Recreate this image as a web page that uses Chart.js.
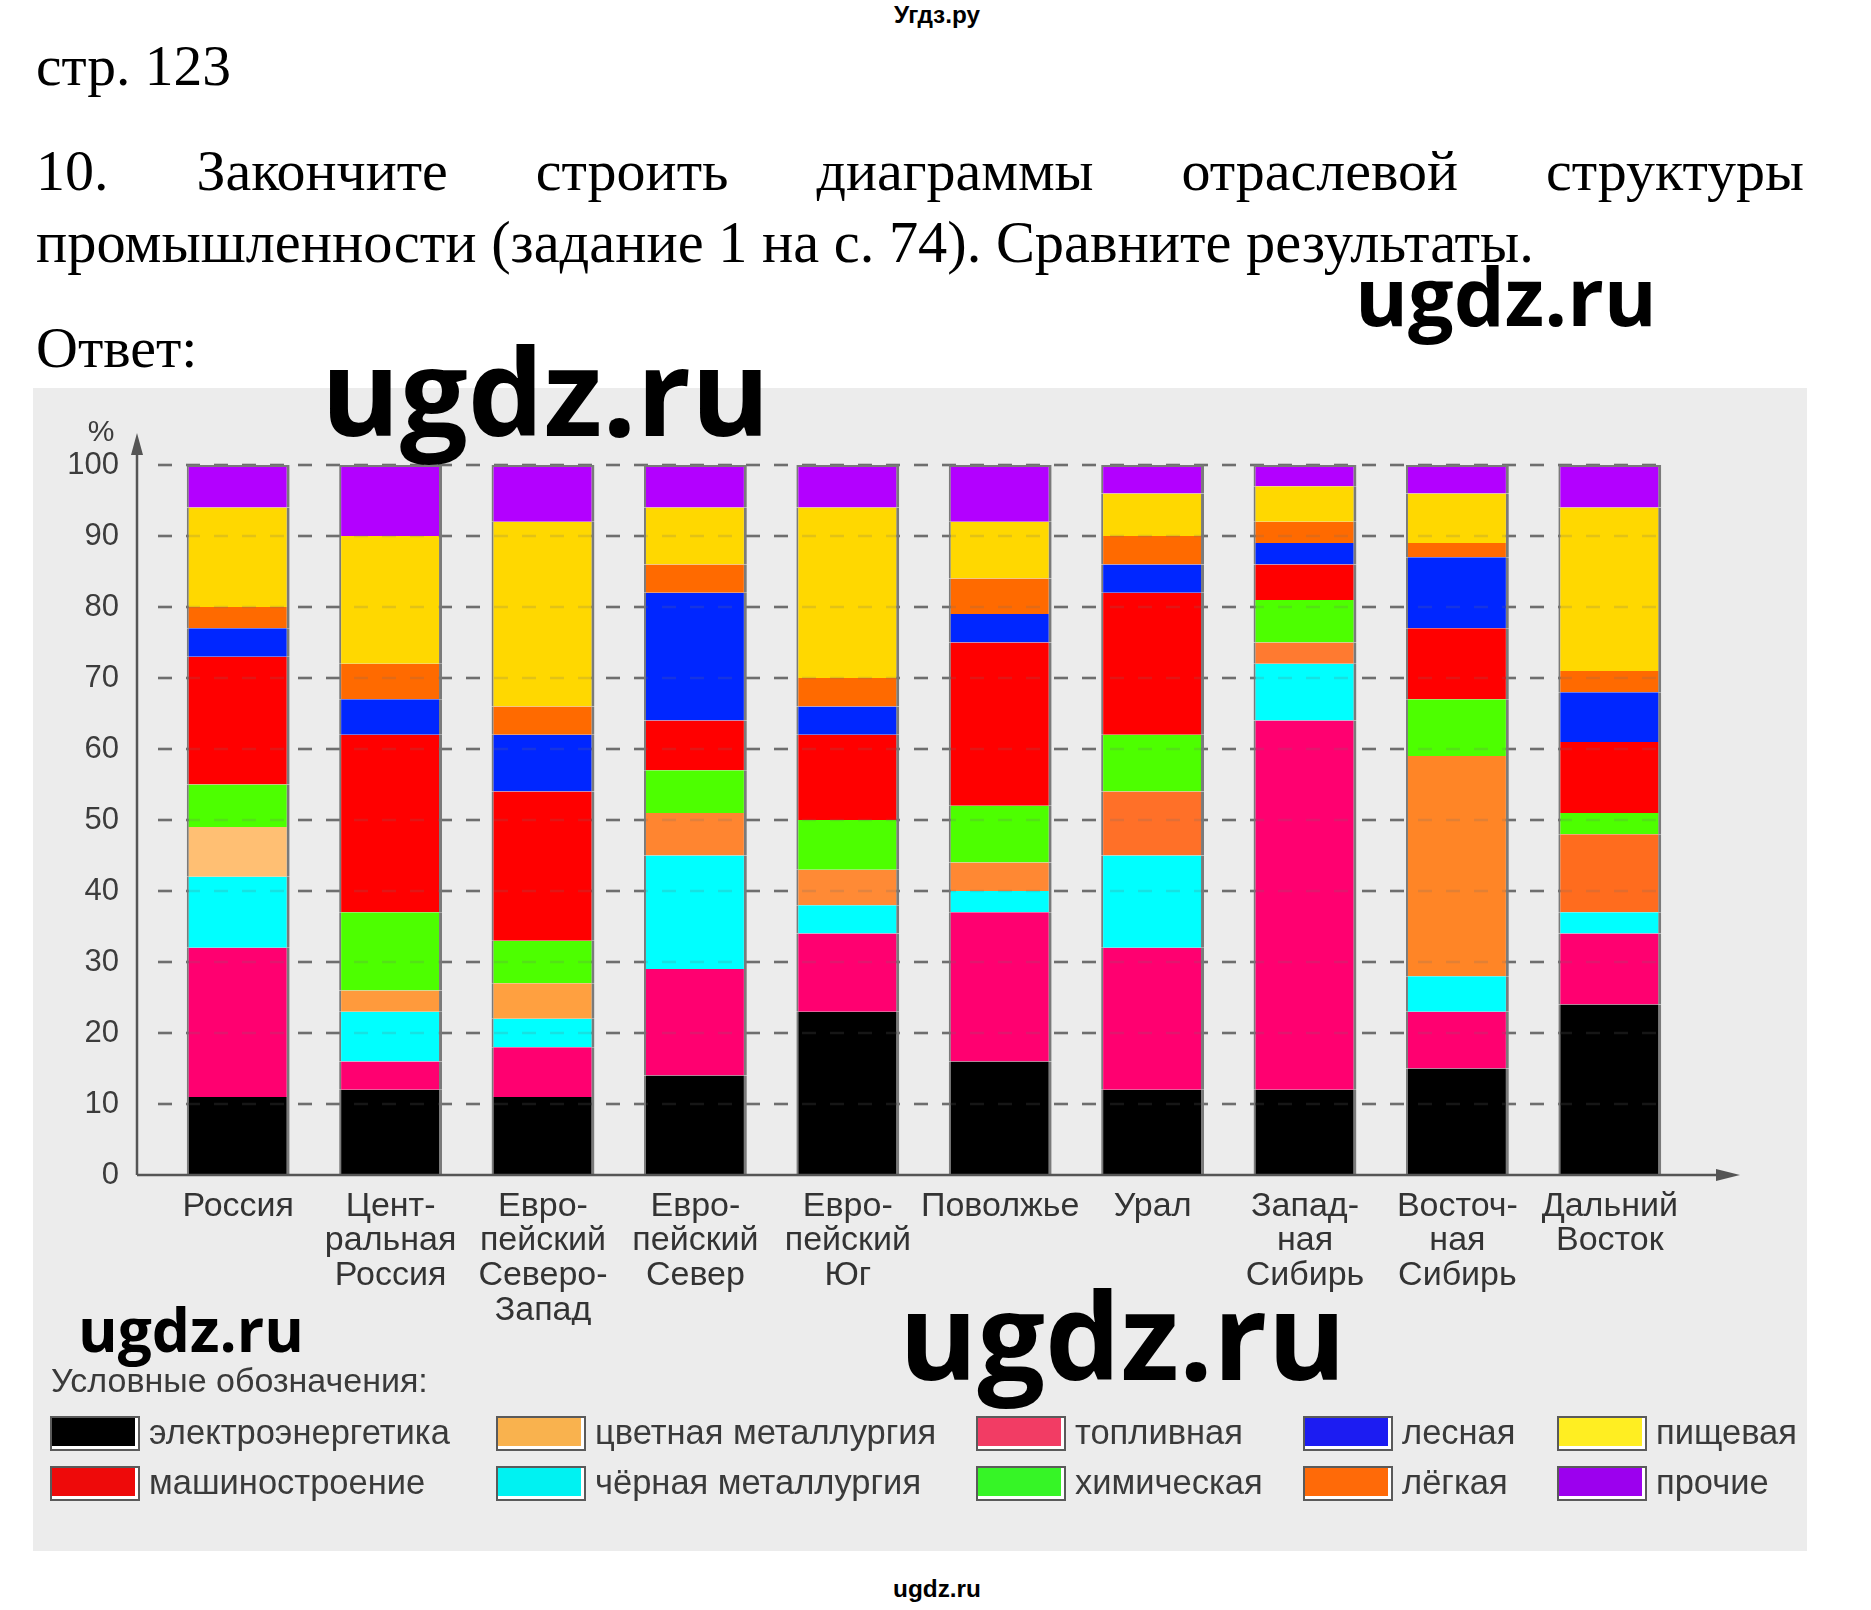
<!DOCTYPE html>
<html lang="ru">
<head>
<meta charset="utf-8">
<title>Отраслевая структура промышленности</title>
<script src="https://cdn.jsdelivr.net/npm/chart.js@4.4.1/dist/chart.umd.min.js"></script>
<style>
  html, body { margin: 0; padding: 0; background: #fff; }
  body { width: 1871px; height: 1610px; position: relative; overflow: hidden; }
  .txt { position: absolute; white-space: nowrap; }
  #panel { position: absolute; left: 33px; top: 388px; width: 1774px; height: 1163px; background: #ececec; }
  #chart { position: absolute; left: 0; top: 0; }
  .swatch { position: absolute; width: 86px; height: 31px; border: 2px solid #5a5a5a; box-shadow: inset -3px -3px 0 #fff; }
  .wm { z-index: 5; color: #000; }
</style>
</head>
<body>
<div id="panel"><canvas id="chart" width="1774" height="1163"></canvas></div>

<script>
// регионы (подписи оси X)
const regions = [
  'Россия',
  ['Цент-', 'ральная', 'Россия'],
  ['Евро-', 'пейский', 'Северо-', 'Запад'],
  ['Евро-', 'пейский', 'Север'],
  ['Евро-', 'пейский', 'Юг'],
  'Поволжье',
  'Урал',
  ['Запад-', 'ная', 'Сибирь'],
  ['Восточ-', 'ная', 'Сибирь'],
  ['Дальний', 'Восток']
];
const yTicks = [0, 10, 20, 30, 40, 50, 60, 70, 80, 90, 100];

// доли отраслей, % (снизу вверх)
const power      = [11, 12, 11, 14, 23, 16, 12, 12, 15, 24]; // электроэнергетика
const fuel       = [21,  4,  7, 15, 11, 21, 20, 52,  8, 10]; // топливная
const ferrous    = [10,  7,  4, 16,  4,  3, 13,  8,  5,  3]; // чёрная металлургия
const nonferrous = [ 7,  3,  5,  6,  5,  4,  9,  3, 31, 11]; // цветная металлургия
const chemical   = [ 6, 11,  6,  6,  7,  8,  8,  6,  8,  3]; // химическая
const machinery  = [18, 25, 21,  7, 12, 23, 20,  5, 10, 10]; // машиностроение
const forestry   = [ 4,  5,  8, 18,  4,  4,  4,  3, 10,  7]; // лесная
const light      = [ 3,  5,  4,  4,  4,  5,  4,  3,  2,  3]; // лёгкая
const food       = [14, 18, 26,  8, 24,  8,  6,  5,  7, 23]; // пищевая
const other      = [ 6, 10,  8,  6,  6,  8,  4,  3,  4,  6]; // прочие

const industries = ['электроэнергетика', 'топливная', 'чёрная металлургия', 'цветная металлургия',
  'химическая', 'машиностроение', 'лесная', 'лёгкая', 'пищевая', 'прочие'];
const values = [power, fuel, ferrous, nonferrous, chemical, machinery, forestry, light, food, other];

// цвета
const nonferrousShades = ['#FFBF73', '#FF9A3C', '#FFA040', '#FF8530', '#FF8A35',
  '#FF8833', '#FF7028', '#FF7A30', '#FF8526', '#FF6C1E'];
const barColors = ['#000000', '#FF0070', '#00FFFF', nonferrousShades, '#4DFF00',
  '#FF0000', '#0026FF', '#FF6A00', '#FFD800', '#B300FF'];
const legendColors = {
  'электроэнергетика': '#000000', 'машиностроение': '#EE0A0A',
  'цветная металлургия': '#F9B24E', 'чёрная металлургия': '#00F2F2',
  'топливная': '#F23C64', 'химическая': '#36F526',
  'лесная': '#1C1CF2', 'лёгкая': '#FF6A08',
  'пищевая': '#FFEE22', 'прочие': '#9C00EE'
};
const legendGrid = [
  ['электроэнергетика', 'машиностроение'],
  ['цветная металлургия', 'чёрная металлургия'],
  ['топливная', 'химическая'],
  ['лесная', 'лёгкая'],
  ['пищевая', 'прочие']
];

const SERIF = '"Liberation Serif", "Times New Roman", serif';
const SANS = '"Liberation Sans", Arial, sans-serif';
const WM = '"Open Sans", "Liberation Sans", sans-serif';
const baseK = { [SERIF]: 0.838, [SANS]: 0.8465, [WM]: 0.888 };

const measureCtx = document.createElement('canvas').getContext('2d');
function fitSize(text, family, weight, width) {
  measureCtx.font = `${weight} 100px ${family}`;
  return 100 * width / measureCtx.measureText(text).width;
}

function addText(text, o) {
  const el = document.createElement('div');
  el.className = 'txt' + (o.cls ? ' ' + o.cls : '');
  el.textContent = text;
  const weight = o.weight || 400;
  const size = o.fit ? fitSize(text, o.family, weight, o.fit) : o.size;
  el.style.font = `${weight} ${size}px ${o.family}`;
  el.style.lineHeight = size + 'px';
  el.style.color = o.color || '#000';
  el.style.top = (o.base - baseK[o.family] * size) + 'px';
  if (o.center) {
    el.style.left = o.center + 'px';
    el.style.transform = 'translateX(-50%)';
  } else {
    el.style.left = o.x + 'px';
  }
  if (o.width) {
    el.style.width = o.width + 'px';
    el.style.textAlign = 'justify';
    el.style.textAlignLast = 'justify';
    el.style.whiteSpace = 'normal';
  }
  document.body.appendChild(el);
  return el;
}

// текст страницы
addText('Угдз.ру', { family: SANS, weight: 700, fit: 86, center: 937, base: 24 });
addText('стр. 123', { family: SERIF, size: 57.5, x: 36, base: 85 });
addText('10. Закончите строить диаграммы отраслевой структуры', { family: SERIF, size: 58, x: 36, base: 191, width: 1768 });
addText('промышленности (задание 1 на с. 74). Сравните результаты.', { family: SERIF, size: 58.4, x: 36, base: 263 });
addText('Ответ:', { family: SERIF, size: 58, x: 36, base: 368 });

// легенда
addText('Условные обозначения:', { family: SANS, size: 34, x: 51, base: 1392, color: '#3a3a3a' });
const legendCols = [50, 496, 976, 1303, 1557];
const legendRows = [1416, 1466];
legendGrid.forEach((col, i) => {
  col.forEach((name, j) => {
    const sw = document.createElement('div');
    sw.className = 'swatch';
    sw.style.left = legendCols[i] + 'px';
    sw.style.top = legendRows[j] + 'px';
    sw.style.background = legendColors[name];
    document.body.appendChild(sw);
    addText(name, { family: SANS, size: 34.5, x: legendCols[i] + 99, base: legendRows[j] + 28, color: '#3a3a3a' });
  });
});

// водяные знаки
addText('ugdz.ru', { family: WM, weight: 700, fit: 302, x: 1355, base: 327, cls: 'wm' });
addText('ugdz.ru', { family: WM, weight: 700, fit: 449, x: 321, base: 437, cls: 'wm' });
addText('ugdz.ru', { family: WM, weight: 700, fit: 226, x: 78, base: 1353, cls: 'wm' });
addText('ugdz.ru', { family: WM, weight: 700, fit: 447, x: 899, base: 1380, cls: 'wm' });
addText('ugdz.ru', { family: SANS, weight: 700, fit: 88, center: 937, base: 1598 });

function drawGrid(chart, color) {
  const { ctx, chartArea, scales: { y } } = chart;
  const meta = chart.getDatasetMeta(chart.data.datasets.length - 1);
  const last = meta.data[meta.data.length - 1];
  const x0 = chartArea.left - 4;
  const x1 = last.x + last.width / 2;
  ctx.save();
  ctx.setLineDash([14, 14]);
  ctx.lineWidth = 2.5;
  ctx.strokeStyle = color;
  y.ticks.forEach(t => {
    if (t.value === 0) return;
    const py = Math.round(y.getPixelForValue(t.value));
    ctx.beginPath();
    ctx.moveTo(x0, py);
    ctx.lineTo(x1, py);
    ctx.stroke();
  });
  ctx.restore();
}

const axesPlugin = {
  id: 'arrowAxes',
  beforeDatasetsDraw(chart) {
    drawGrid(chart, '#6e6e6e');
  },
  afterDatasetsDraw(chart) {
    drawGrid(chart, 'rgba(110,110,110,0.2)');
    const { ctx, chartArea, scales: { y } } = chart;
    const ax = chartArea.left - 25;
    const y0 = y.getPixelForValue(0);
    const topTip = chartArea.top - 32;
    const rightTip = chartArea.right + 54;
    ctx.save();
    ctx.strokeStyle = '#555';
    ctx.fillStyle = '#555';
    ctx.lineWidth = 2.5;
    ctx.beginPath();
    ctx.moveTo(ax, y0);
    ctx.lineTo(ax, topTip + 10);
    ctx.moveTo(ax, y0);
    ctx.lineTo(rightTip - 10, y0);
    ctx.stroke();
    ctx.beginPath();
    ctx.moveTo(ax, topTip);
    ctx.lineTo(ax - 6, topTip + 22);
    ctx.lineTo(ax + 6, topTip + 22);
    ctx.closePath();
    ctx.fill();
    ctx.beginPath();
    ctx.moveTo(rightTip, y0);
    ctx.lineTo(rightTip - 24, y0 - 6);
    ctx.lineTo(rightTip - 24, y0 + 6);
    ctx.closePath();
    ctx.fill();
    ctx.font = `30px ${SANS}`;
    ctx.textAlign = 'center';
    ctx.textBaseline = 'alphabetic';
    ctx.fillStyle = '#3c3c3c';
    ctx.fillText('%', ax - 36, chartArea.top - 24);
    ctx.restore();
  }
};

const datasets = values.map((data, i) => ({
  label: industries[i],
  data,
  backgroundColor: barColors[i],
  borderColor: '#7a7a7a',
  borderWidth: { left: 2, right: 3, top: i === values.length - 1 ? 2 : 0, bottom: 0 },
  borderSkipped: false,
  categoryPercentage: 1,
  barPercentage: 0.675
}));

new Chart(document.getElementById('chart'), {
  type: 'bar',
  data: { labels: regions, datasets },
  plugins: [axesPlugin],
  options: {
    responsive: false,
    animation: false,
    events: [],
    layout: { padding: { left: 0, top: 77, right: 121, bottom: 226 } },
    plugins: { legend: { display: false }, tooltip: { enabled: false } },
    scales: {
      x: {
        stacked: true,
        grid: { display: false, drawTicks: false },
        border: { display: false },
        ticks: {
          autoSkip: false, maxRotation: 0, minRotation: 0, padding: 14,
          color: '#333',
          font: { family: SANS, size: 34, lineHeight: 1.02 }
        },
        afterFit: s => { s.height = 150; }
      },
      y: {
        stacked: true,
        min: 0,
        max: 100,
        grid: { display: false, drawTicks: false },
        border: { display: false },
        afterBuildTicks: s => { s.ticks = yTicks.map(v => ({ value: v })); },
        ticks: { padding: 43, color: '#3c3c3c', font: { family: SANS, size: 31 } },
        afterFit: s => { s.width = 129; }
      }
    }
  }
});
</script>
</body>
</html>
